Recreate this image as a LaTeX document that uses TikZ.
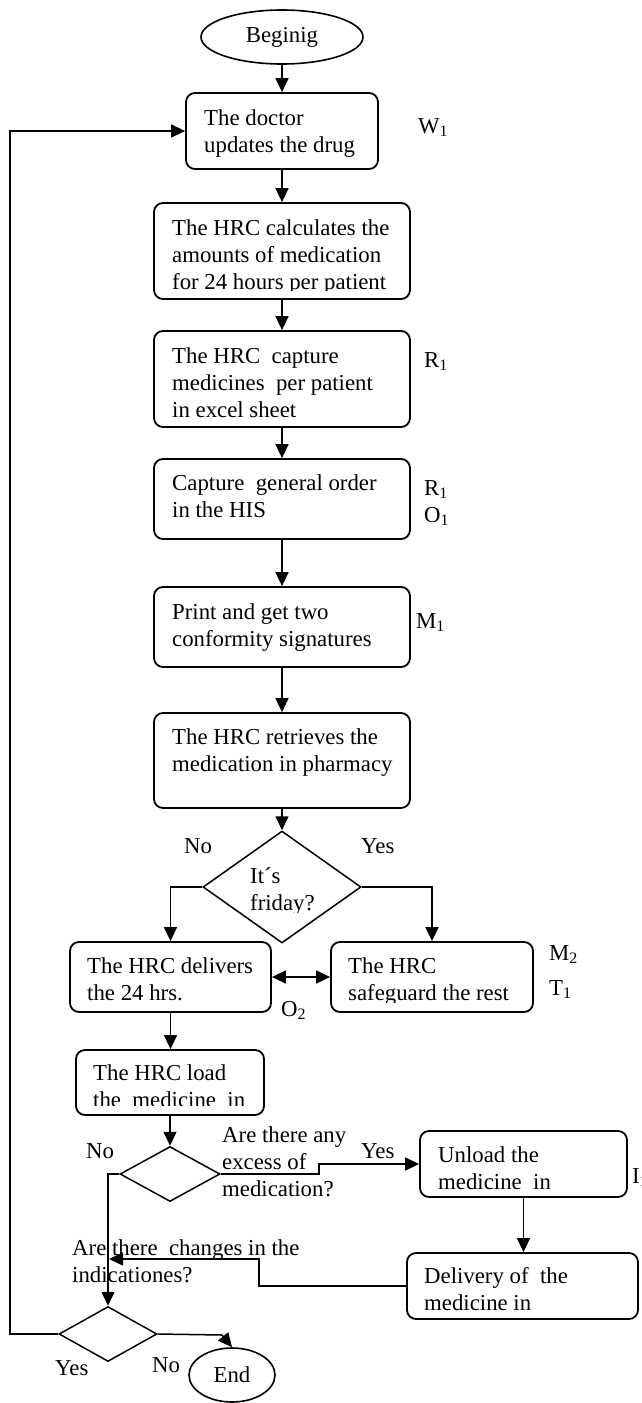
\documentclass[tikz,border=0pt]{standalone}
\usepackage{fontspec}
\setmainfont{Liberation Serif}
\usetikzlibrary{arrows.meta,shapes.geometric}
\newcommand\mlines[1]{\begin{tabular}[t]{@{}l@{}}#1\end{tabular}}
\newcommand\fsz{\fontsize{22.8}{27}\selectfont}
\begin{document}
\begin{tikzpicture}[x=1pt,y=-1pt,
  box/.style={draw, rounded corners=9pt, line width=1.8pt, inner sep=0pt},
  oval/.style={draw, ellipse, line width=1.6pt, inner sep=0pt, font=\fsz},
  dia/.style={draw, diamond, line width=1.5pt, inner sep=0pt},
  txt/.style={anchor=base west, inner sep=0pt, font=\fsz},
  arr/.style={-{Triangle[length=14pt,width=13pt]}, line width=1.5pt},
  dbl/.style={{Triangle[length=14pt,width=13pt]}-{Triangle[length=14pt,width=13pt]}, line width=1.5pt},
  plain/.style={line width=1.5pt}]
\useasboundingbox (0,0) rectangle (642,1403);

% terminals
\node[oval, minimum width=162pt, minimum height=54pt] (beg) at (282,37) {Beginig};
\node[oval, minimum width=86pt, minimum height=54pt] (endn) at (232,1375) {End};

% process boxes
\node[box, minimum width=192pt, minimum height=76pt] (b1) at (282,131) {};
\node[box, minimum width=256pt, minimum height=96pt] (b2) at (282,251) {};
\node[box, minimum width=256pt, minimum height=96pt] (b3) at (282,379) {};
\node[box, minimum width=256pt, minimum height=80pt] (b4) at (282,499) {};
\node[box, minimum width=256pt, minimum height=80pt] (b5) at (282,627) {};
\node[box, minimum width=256pt, minimum height=95pt] (b6) at (282,760.5) {};
\node[box, minimum width=201pt, minimum height=70pt] (b7) at (170.5,977) {};
\node[box, minimum width=202pt, minimum height=70pt] (b8) at (432,977) {};
\node[box, minimum width=188pt, minimum height=65pt] (b9) at (170,1082.5) {};
\node[box, minimum width=207pt, minimum height=66pt] (b10) at (523.5,1164) {};
\node[box, minimum width=231pt, minimum height=66pt] (b11) at (522.5,1286) {};

% decisions
\node[dia, minimum width=158pt, minimum height=112pt] (d1) at (282,887) {};
\node[dia, minimum width=100pt, minimum height=55pt] (d2) at (170,1174) {};
\node[dia, minimum width=98pt, minimum height=55pt] (d3) at (108,1334) {};

% texts in boxes
\node[txt] (t1) at (204,125) {\mlines{The doctor\\updates the drug}};
\begin{scope}
\clip (154,203) rectangle (410,290);
\node[txt] (t2) at (172,235) {\mlines{The HRC calculates the\\amounts of medication\\for 24 hours per patient}};
\end{scope}
\node[txt] (t3) at (172,363) {\mlines{The HRC\ \ capture\\medicines\ \ per patient\\in excel sheet}};
\node[txt] (t4) at (172,490) {\mlines{Capture\ \ general order\\in the HIS}};
\node[txt] (t5) at (172,619) {\mlines{Print and get two\\conformity signatures}};
\node[txt] (t6) at (172,744) {\mlines{The HRC retrieves the\\medication in pharmacy}};
\begin{scope}
\clip (200,850) rectangle (360,912);
\node[txt] (t7) at (250,883) {\mlines{It´s\\friday?}};
\end{scope}
\node[txt] (t8) at (87,973) {\mlines{The HRC delivers\\the 24 hrs.}};
\begin{scope}
\clip (331,942) rectangle (533,1002);
\node[txt] (t9) at (348,973) {\mlines{The HRC\\safeguard the rest}};
\end{scope}
\begin{scope}
\clip (76,1050) rectangle (264,1105);
\node[txt] (t10) at (93,1080) {\mlines{The HRC load\\the\ \ medicine\ \ in}};
\end{scope}
\node[txt] (t11) at (222,1142) {\mlines{Are there any\\excess of\\medication?}};
\node[txt] (t12) at (438,1162) {\mlines{Unload the\\medicine\ \ in}};
\node[txt] (t13) at (424,1283) {\mlines{Delivery of\ \ the\\medicine in}};
\node[txt] (t14) at (72,1255) {\mlines{Are there\ \ changes in the\\indicationes?}};

% side labels
\node[txt] (w1) at (418,133) {W\textsubscript{1}};
\node[txt] (r1) at (424,367) {R\textsubscript{1}};
\node[txt] (r1b) at (424,495) {R\textsubscript{1}};
\node[txt] (o1) at (424,522) {O\textsubscript{1}};
\node[txt] (m1) at (416,628) {M\textsubscript{1}};
\node[txt] (m2) at (549,960) {M\textsubscript{2}};
\node[txt] (tt1) at (549,995) {T\textsubscript{1}};
\node[txt] (o2) at (281,1016) {O\textsubscript{2}};
\node[txt] (i1) at (632,1183) {I\textsubscript{1}};

% branch labels
\node[txt] (no1) at (184,853) {No};
\node[txt] (yes1) at (361,853) {Yes};
\node[txt] (no2) at (86,1158) {No};
\node[txt] (yes2) at (361,1158) {Yes};
\node[txt] (yes3) at (55,1375) {Yes};
\node[txt] (no3) at (152,1372) {No};

% connectors
\draw[arr] (beg) -- (b1);
\draw[arr] (b1) -- (b2);
\draw[arr] (b2) -- (b3);
\draw[arr] (b3) -- (b4);
\draw[arr] (b4) -- (b5);
\draw[arr] (b5) -- (b6);
\draw[arr] (b6) -- (d1);
\draw[arr] (d1.west) -| (b7.north);
\draw[arr] (d1.east) -| (b8.north);
\draw[dbl] (b7.east) -- (b8.west);
\draw[arr] (b7.south) -- (b7.south |- b9.north);
\draw[arr] (b9.south) -- (d2.north);
\coordinate (j1) at (319,1174);
\draw[arr] (d2.east) -- (j1) |- (b10.west);
\draw[arr] (b10.south) -- (b10.south |- b11.north);
\coordinate (j2) at (259,1259);
\coordinate (j3) at (109,1259);
\draw[arr] (b11.west) -| (j2) -- (j3);
\draw[arr] (d2.west) -| (d3.north);
\coordinate (j4) at (10,1334);
\draw[arr] (d3.west) -- (j4) |- (b1.west);
\coordinate (j5) at (222,1335);
\draw[arr] (d3.east) -- (j5) -- (endn.north);
\end{tikzpicture}
\end{document}
